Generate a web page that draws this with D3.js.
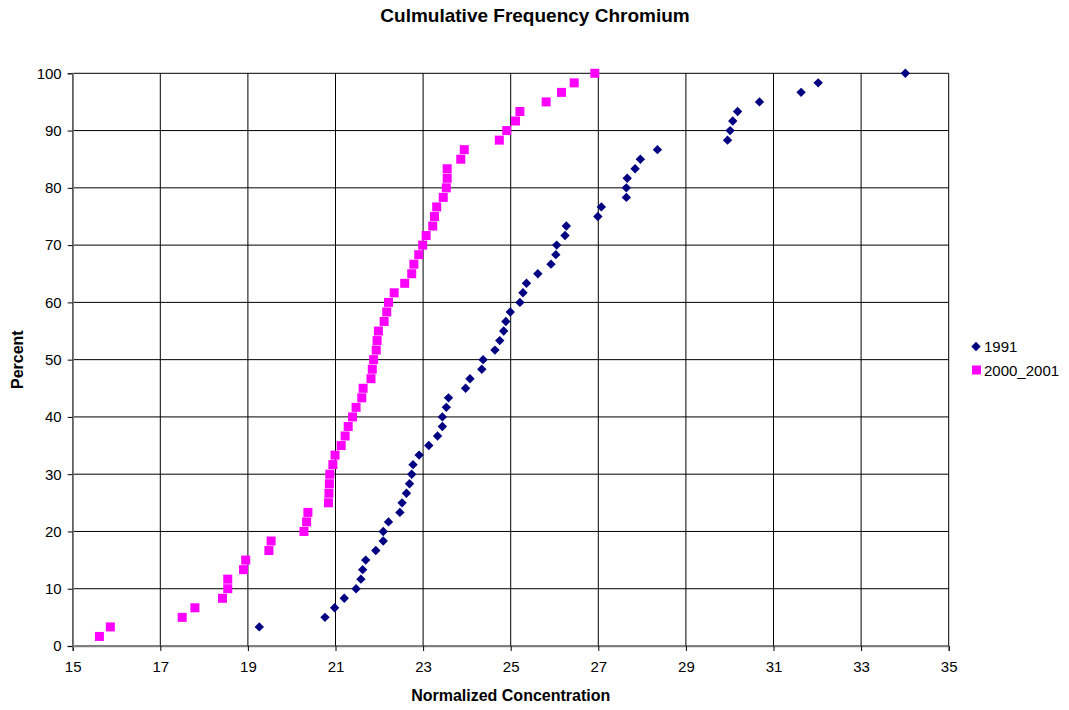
<!DOCTYPE html>
<html>
<head>
<meta charset="utf-8">
<script src="https://cdn.jsdelivr.net/npm/d3@7/dist/d3.min.js"></script>
<style>
  html, body { margin: 0; padding: 0; background: #fff; }
  svg { display: block; font-family: "Liberation Sans", Arial, sans-serif; }
</style>
</head>
<body>
<svg id="chart" width="1069" height="710"></svg>
<script>
// ---- data ----
const title = "Culmulative Frequency Chromium";
const xTitle = "Normalized Concentration";
const yTitle = "Percent";
const seriesNames = ["1991", "2000_2001"];
const xTicks = [15, 17, 19, 21, 23, 25, 27, 29, 31, 33, 35];
const yTicks = [0, 10, 20, 30, 40, 50, 60, 70, 80, 90, 100];

const conc1991 = [19.26, 20.76, 20.98, 21.20, 21.47, 21.58, 21.62, 21.69, 21.92, 22.09,
  22.09, 22.21, 22.47, 22.52, 22.62, 22.69, 22.74, 22.77, 22.91, 23.13,
  23.33, 23.44, 23.44, 23.53, 23.58, 23.97, 24.07, 24.34, 24.37, 24.64,
  24.75, 24.84, 24.89, 24.99, 25.21, 25.28, 25.36, 25.62, 25.92, 26.03,
  26.05, 26.24, 26.27, 26.99, 27.07, 27.64, 27.64, 27.66, 27.84, 27.96,
  28.35, 29.95, 30.01, 30.07, 30.18, 30.68, 31.63, 32.02, 34.01];
const pct1991 = [3.33, 5, 6.67, 8.33, 10, 11.67, 13.33, 15, 16.67, 18.33,
  20, 21.67, 23.33, 25, 26.67, 28.33, 30, 31.67, 33.33, 35,
  36.67, 38.33, 40, 41.67, 43.33, 45, 46.67, 48.33, 50, 51.67,
  53.33, 55, 56.67, 58.33, 60, 61.67, 63.33, 65, 66.67, 68.33,
  70, 71.67, 73.33, 75, 76.67, 78.33, 80, 81.67, 83.33, 85,
  86.67, 88.33, 90, 91.67, 93.33, 95, 96.67, 98.33, 100];

const conc2000 = [15.61, 15.86, 17.50, 17.79, 18.42, 18.54, 18.54, 18.90, 18.95, 19.48,
  19.53, 20.28, 20.34, 20.37, 20.84, 20.85, 20.86, 20.87, 20.94, 20.99,
  21.13, 21.22, 21.29, 21.39, 21.47, 21.60, 21.63, 21.81, 21.84, 21.87,
  21.93, 21.95, 21.98, 22.11, 22.17, 22.21, 22.34, 22.58, 22.74, 22.79,
  22.90, 22.99, 23.07, 23.22, 23.26, 23.31, 23.46, 23.53, 23.55, 23.55,
  23.86, 23.94, 24.74, 24.91, 25.11, 25.21, 25.81, 26.16, 26.45, 26.92];
const pct2000 = [1.67, 3.33, 5, 6.67, 8.33, 10, 11.67, 13.33, 15, 16.67,
  18.33, 20, 21.67, 23.33, 25, 26.67, 28.33, 30, 31.67, 33.33,
  35, 36.67, 38.33, 40, 41.67, 43.33, 45, 46.67, 48.33, 50,
  51.67, 53.33, 55, 56.67, 58.33, 60, 61.67, 63.33, 65, 66.67,
  68.33, 70, 71.67, 73.33, 75, 76.67, 78.33, 80, 81.67, 83.33,
  85, 86.67, 88.33, 90, 91.67, 93.33, 95, 96.67, 98.33, 100];

// ---- layout ----
const plotL = 72.7, plotR = 948.7, plotT = 73.3, plotB = 646;
const svg = d3.select("#chart");

const x = d3.scaleLinear().domain([15, 35]).range([plotL, plotR]);
const y = d3.scaleLinear().domain([0, 100]).range([plotB, plotT]);

// gridlines
const grid = svg.append("g");
grid.selectAll("line.vg").data(xTicks).join("line").attr("class", "vg")
  .attr("x1", d => x(d)).attr("x2", d => x(d))
  .attr("y1", plotT).attr("y2", plotB)
  .attr("stroke", "#000").attr("stroke-width", 1);
grid.selectAll("line.hg").data(yTicks).join("line").attr("class", "hg")
  .attr("x1", plotL).attr("x2", plotR)
  .attr("y1", d => y(d)).attr("y2", d => y(d))
  .attr("stroke", "#000").attr("stroke-width", 1);

// axes
const xAxis = d3.axisBottom(x).tickValues(xTicks).tickSize(5).tickPadding(10).tickFormat(d3.format("d"));
const yAxis = d3.axisLeft(y).tickValues(yTicks).tickSize(5).tickPadding(6).tickFormat(d3.format("d"));

const gx = svg.append("g").attr("transform", `translate(0,${plotB})`).call(xAxis);
const gy = svg.append("g").attr("transform", `translate(${plotL},0)`).call(yAxis);
[gx, gy].forEach(g => {
  g.select(".domain").attr("stroke", "#808080").attr("stroke-width", 1.6);
  g.selectAll(".tick line").attr("stroke", "#000");
  g.selectAll(".tick text").attr("fill", "#000")
    .style("font-size", "15px").style("font-family", "'Liberation Sans', Arial, sans-serif");
});

// series
const diamond = d3.symbol().type(d3.symbolSquare).size(44);
svg.append("g").selectAll("path").data(conc1991.map((c, i) => [c, pct1991[i]])).join("path")
  .attr("transform", d => `translate(${x(d[0])},${y(d[1])}) rotate(45)`)
  .attr("d", diamond)
  .attr("fill", "#000080");

const sq = 9;
svg.append("g").selectAll("rect").data(conc2000.map((c, i) => [c, pct2000[i]])).join("rect")
  .attr("x", d => x(d[0]) - sq / 2).attr("y", d => y(d[1]) - sq / 2)
  .attr("width", sq).attr("height", sq)
  .attr("fill", "#FF00FF");

// titles
svg.append("text").attr("x", 535).attr("y", 22).attr("text-anchor", "middle")
  .style("font-size", "19px").style("font-weight", "bold").text(title);
svg.append("text").attr("x", x(25)).attr("y", 701).attr("text-anchor", "middle")
  .style("font-size", "16px").style("font-weight", "bold").text(xTitle);
svg.append("text").attr("transform", `translate(23,${y(50)}) rotate(-90)`).attr("text-anchor", "middle")
  .style("font-size", "16px").style("font-weight", "bold").text(yTitle);

// legend
const lg = svg.append("g");
lg.append("path").attr("transform", "translate(976,346.5) rotate(45)")
  .attr("d", diamond).attr("fill", "#000080");
lg.append("rect").attr("x", 972).attr("y", 365.5).attr("width", 9).attr("height", 9).attr("fill", "#FF00FF");
lg.selectAll("text").data(seriesNames).join("text")
  .attr("x", 984).attr("y", (d, i) => 352 + i * 23.5)
  .style("font-size", "15px").text(d => d);
</script>
</body>
</html>
